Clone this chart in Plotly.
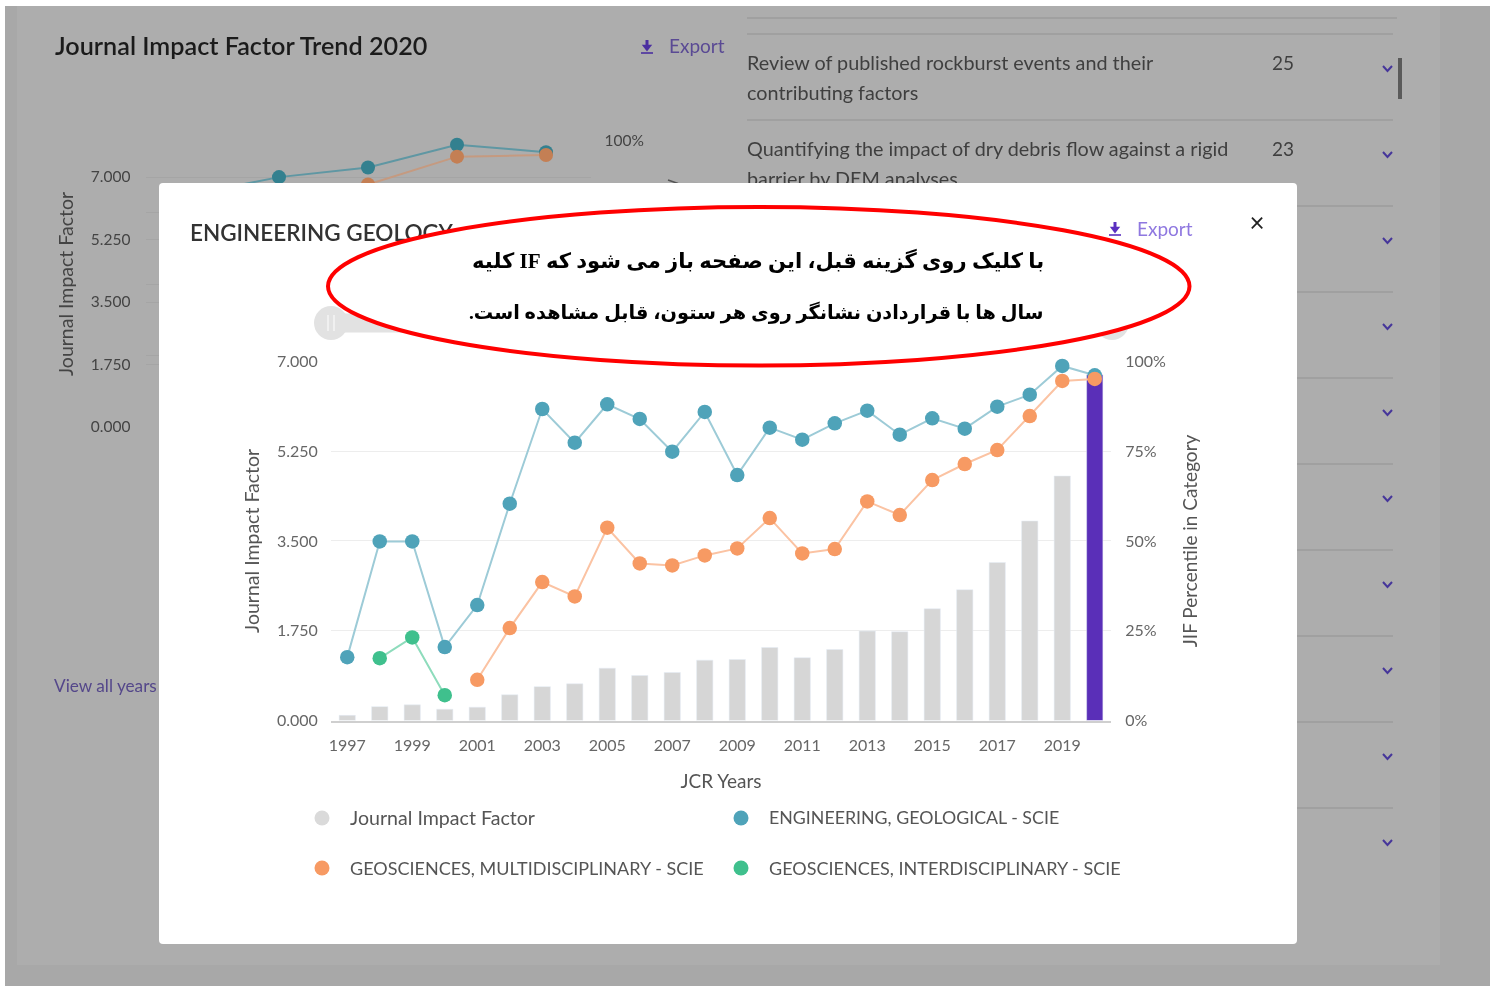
import plotly.graph_objects as go

W, H = 1498, 986

# ---------- chart data ----------
years = list(range(1997, 2021))
jif = [0.10, 0.27, 0.305, 0.22, 0.26, 0.50, 0.66, 0.715, 1.02, 0.877, 0.936, 1.176,
       1.19, 1.423, 1.222, 1.384, 1.742, 1.729, 2.177, 2.548, 3.08, 3.887, 4.764, 6.74]
eng_geo = [17.64, 49.86, 49.86, 20.43, 32.13, 60.35, 86.72, 77.34, 88.02, 83.94, 74.84, 85.89,
           68.34, 81.52, 78.18, 82.73, 86.26, 79.57, 84.12, 81.24, 87.37, 90.71, 98.70, 96.10]
geo_multi = [None, None, None, None, 11.33, 25.72, 38.53, 34.54, 53.67, 43.73, 43.18, 45.96,
             47.91, 56.36, 46.52, 47.73, 61.0, 57.2, 66.94, 71.4, 75.3, 84.77, 94.52, 95.08]
geo_inter = [None, 17.36, 23.12, 7.06] + [None] * 20
series_names = ["Journal Impact Factor", "ENGINEERING, GEOLOGICAL - SCIE",
                "GEOSCIENCES, MULTIDISCIPLINARY - SCIE", "GEOSCIENCES, INTERDISCIPLINARY - SCIE"]
jif_ticks = [0, 1.75, 3.5, 5.25, 7]
pct_ticks = [0, 25, 50, 75, 100]
pct_labels = ["0%", "25%", "50%", "75%", "100%"]
year_ticks = list(range(1997, 2020, 2))
list_rows = [("Review of published rockburst events and their", "contributing factors", "25"),
             ("Quantifying the impact of dry debris flow against a rigid", "barrier by DEM analyses", "23")]
note_lines = ["با کلیک روی گزینه قبل، این صفحه باز می شود که IF کلیه",
              "سال ها با قراردادن نشانگر روی هر ستون، قابل مشاهده است."]

FONT = "Lato"
C_BAR, C_NOW = "#d6d6d6", "#5a2fb8"
C_TEAL, C_ORANGE, C_GREEN = "#4fa3b9", "#f79a63", "#3fc08d"
L_TEAL, L_ORANGE, L_GREEN = "#9dcbd7", "#fbc3a3", "#8edcbc"
PANEL, OUTER, GRID_DIM = "#adadad", "#a8a8a8", "#a5a5a5"


def dom_x(a, b):
    return [a / W, b / W]


def dom_y(top, bottom):
    return [(H - bottom) / H, (H - top) / H]


fig = go.Figure()
PAGE = dict(xaxis="x", yaxis="y")
MODAL = dict(xaxis="x3", yaxis="y4")


def label(text, x, y, size, color, axes, pos="middle right", weight=None):
    fig.add_trace(go.Scatter(x=[x], y=[y + 2], mode="text", text=[text], textposition=pos,
                             textfont=dict(family=FONT, size=size, color=color,
                                           **({"weight": weight} if weight else {})),
                             cliponaxis=False, hoverinfo="skip", showlegend=False, **axes))


def polyline(xs, ys, color, width, axes):
    fig.add_trace(go.Scatter(x=xs, y=ys, mode="lines", line=dict(color=color, width=width),
                             hoverinfo="skip", showlegend=False, connectgaps=False,
                             cliponaxis=False, **axes))


def export_icon(x, y, color, axes):
    polyline([x, x], [y - 6, y], color, 3, axes)
    polyline([x - 6, x + 6], [y + 7, y + 7], color, 1.6, axes)
    fig.add_trace(go.Scatter(x=[x], y=[y + 1], mode="markers", hoverinfo="skip", showlegend=False,
                             marker=dict(symbol="triangle-down", size=9, color=color), **axes))


# ---------- page behind the dialog ----------
for yy in [18, 34, 120, 206, 292, 378, 464, 550, 636, 722, 808]:
    polyline([747, 1397 if yy == 18 else 1393], [yy, yy], "#9c9c9c", 1.4, PAGE)
label("Journal Impact Factor Trend 2020", 55, 47, 25.2, "#1b1b1b", PAGE, weight=600)
export_icon(647, 46, "#4b2fa0", PAGE)
label("Export", 669, 46, 19, "#5a4a94", PAGE)
label("View all years", 54, 685.5, 17.2, "#54478a", PAGE)
for i, (first, second, cites) in enumerate(list_rows):
    label(first, 747, 63 + 86 * i, 19.8, "#3f3f3f", PAGE)
    label(second, 747, 93 + 86 * i, 19.8, "#3f3f3f", PAGE)
    label(cites, 1272, 63 + 86 * i, 19, "#3f3f3f", PAGE)
for yy in [68 + 86 * i for i in range(10)]:
    polyline([1383, 1387.5, 1392], [yy - 2, yy + 3, yy - 2], "#46369a", 2, PAGE)
polyline([1400, 1400], [58, 99], "#5a5a5a", 4, PAGE)
polyline([668, 678, 671], [180, 183.5, 187], "#555555", 1.5, PAGE)

# background copy of the chart: last five JCR years
fig.add_trace(go.Bar(x=years[-5:], y=jif[-5:], marker_color=["#8f8f8f"] * 4 + ["#3e2380"], width=0.5,
                     hoverinfo="skip", showlegend=False, xaxis="x2", yaxis="y2"))
for vals, c_line, c_mark in [(eng_geo, "#5f97a3", "#33808f"), (geo_multi, "#c59a80", "#c47f54")]:
    fig.add_trace(go.Scatter(x=years[-5:], y=vals[-5:], mode="lines+markers",
                             line=dict(color=c_line, width=2), marker=dict(size=14, color=c_mark),
                             cliponaxis=False, hoverinfo="skip", showlegend=False, xaxis="x2", yaxis="y3"))

# ---------- dialog level ----------
label("ENGINEERING GEOLOGY", 190, 233, 22.5, "#333333", MODAL, weight=600)
export_icon(1115, 228, "#5a2fc0", MODAL)
label("Export", 1137, 229, 19, "#8f78e0", MODAL)
label("×", 1257, 223, 26, "#222222", MODAL, pos="middle center")
polyline([331, 1112], [323, 323], "#e2e2e2", 19, MODAL)
fig.add_trace(go.Scatter(x=[331, 1112], y=[323, 323], mode="markers", hoverinfo="skip", showlegend=False,
                         marker=dict(size=34, color="#e2e2e2"), **MODAL))
polyline([328, 328, None, 334, 334], [315, 331, None, 315, 331], "#f4f4f4", 1.5, MODAL)
legend_pos = [(322, 818), (741, 818), (322, 868), (741, 868)]
legend_col = ["#dadada", C_TEAL, C_ORANGE, C_GREEN]
legend_size = [19.6, 17.8, 18, 18]
for name, (lx, ly), col, sz in zip(series_names, legend_pos, legend_col, legend_size):
    fig.add_trace(go.Scatter(x=[lx], y=[ly], mode="markers", marker=dict(size=15, color=col),
                             hoverinfo="skip", showlegend=False, **MODAL))
    label(name, lx + 28, ly, sz, "#555555", MODAL)

# ---------- main chart ----------
fig.add_trace(go.Bar(x=years, y=jif, name=series_names[0], width=0.5,
                     marker_color=[C_BAR] * 23 + [C_NOW], showlegend=False, xaxis="x4", yaxis="y5"))
for vals, c_line, c_mark, nm in [(eng_geo, L_TEAL, C_TEAL, series_names[1]),
                                 (geo_inter, L_GREEN, C_GREEN, series_names[3]),
                                 (geo_multi, L_ORANGE, C_ORANGE, series_names[2])]:
    fig.add_trace(go.Scatter(x=years, y=vals, name=nm, mode="lines+markers", connectgaps=False,
                             line=dict(color=c_line, width=2), marker=dict(size=14.5, color=c_mark),
                             cliponaxis=False, showlegend=False, xaxis="x4", yaxis="y6"))

hidden = dict(visible=False, fixedrange=True, showgrid=False, zeroline=False)
tickf = dict(family=FONT, size=16, color="#666666")
tickb = dict(family=FONT, size=15.5, color="#444444")
layout_axes = dict(
    xaxis=dict(domain=[0, 1], range=[0, W], **hidden),
    yaxis=dict(domain=[0, 1], range=[H, 0], **hidden),
    # background chart
    xaxis2=dict(domain=dom_x(145.5, 590.5), range=[2015.5, 2020.5], anchor="y2", fixedrange=True,
                showgrid=False, zeroline=False, showline=False, showticklabels=False, ticks=""),
    yaxis2=dict(domain=dom_y(141, 427), anchor="x2", range=[0, 8.008], tickvals=jif_ticks,
                tickformat=".3f", gridcolor=GRID_DIM, gridwidth=1.2, zeroline=False, showline=False,
                ticks="outside", ticklen=11, tickcolor="rgba(0,0,0,0)", tickfont=tickb, fixedrange=True,
                title=dict(text=series_names[0], font=dict(family=FONT, size=19.5, color="#444444"),
                           standoff=11)),
    yaxis3=dict(overlaying="y2", anchor="x2", side="right", range=[0, 100],
                tickvals=pct_ticks[-1:], ticktext=pct_labels[-1:],
                minor=dict(tickvals=pct_ticks[:-1], showgrid=True, gridcolor=GRID_DIM, gridwidth=1.2),
                gridcolor=GRID_DIM, gridwidth=1.2, zeroline=False, showline=False,
                ticks="outside", ticklen=10, tickcolor="rgba(0,0,0,0)", tickfont=tickb, fixedrange=True),
    # dialog coordinates
    xaxis3=dict(domain=[0, 1], range=[0, W], anchor="y4", **hidden),
    yaxis4=dict(domain=[0, 1], range=[H, 0], anchor="x3", **hidden),
    # main chart
    xaxis4=dict(domain=dom_x(331, 1111), range=[1996.5, 2020.5], anchor="y5", tickvals=year_ticks,
                showgrid=False, zeroline=False, showline=True, linecolor="#cfcfcf", linewidth=1.5,
                ticks="outside", ticklen=10, tickcolor="rgba(0,0,0,0)", tickfont=tickf, fixedrange=True,
                title=dict(text="JCR Years", font=dict(family=FONT, size=19, color="#555555"), standoff=21)),
    yaxis5=dict(domain=dom_y(361.3, 720.5), anchor="x4", range=[0, 7], tickvals=jif_ticks,
                tickformat=".3f", gridcolor="#ededed", gridwidth=1.3, zeroline=False, showline=False,
                ticks="outside", ticklen=9, tickcolor="rgba(0,0,0,0)", tickfont=tickf, fixedrange=True,
                title=dict(text=series_names[0], font=dict(family=FONT, size=19.5, color="#555555"),
                           standoff=12)),
    yaxis6=dict(overlaying="y5", anchor="x4", side="right", range=[0, 100], tickvals=pct_ticks,
                ticktext=pct_labels, showgrid=False, zeroline=False, showline=False,
                ticks="outside", ticklen=10, tickcolor="rgba(0,0,0,0)", tickfont=tickf, fixedrange=True,
                title=dict(text="JIF Percentile in Category", font=dict(family=FONT, size=19, color="#555555"),
                           standoff=18)),
)

shapes = [
    dict(type="rect", xref="paper", yref="paper", x0=5 / W, x1=1490 / W, y0=0, y1=(H - 6) / H,
         fillcolor=OUTER, line_width=0, layer="below"),
    dict(type="rect", xref="paper", yref="paper", x0=17 / W, x1=1440 / W, y0=(H - 965) / H, y1=(H - 6) / H,
         fillcolor=PANEL, line_width=0, layer="below"),
    # dialog sheet, in the dialog subplot's own layer: above the background chart
    dict(type="path", xref="x3", yref="y4", layer="below", fillcolor="#ffffff", line_width=0,
         path="M163,183 L1293,183 Q1297,183 1297,187 L1297,940 Q1297,944 1293,944 L163,944 "
              "Q159,944 159,940 L159,187 Q159,183 163,183 Z"),
    # red callout
    dict(type="circle", xref="paper", yref="paper", layer="above",
         x0=328 / W, x1=1189.5 / W, y0=(H - 365.5) / H, y1=(H - 207) / H,
         fillcolor="#ffffff", line=dict(color="#ff0000", width=4)),
]

note_sizes = [21.1, 19.3]
annotations = [
    dict(text="\u202b<b>" + line + "</b>\u202c", xref="paper", yref="paper", x=1046 / W, y=(H - yy) / H,
         xanchor="right", yanchor="middle", showarrow=False, align="right",
         font=dict(family="Liberation Serif, DejaVu Sans", size=sz, color="#000000"))
    for line, yy, sz in zip(note_lines, [260, 312], note_sizes)
]

fig.update_layout(
    width=W, height=H, margin=dict(l=0, r=0, t=0, b=0, pad=0, autoexpand=False),
    paper_bgcolor="#ffffff", plot_bgcolor="rgba(0,0,0,0)", barmode="overlay",
    showlegend=False, shapes=shapes, annotations=annotations, font=dict(family=FONT),
    **layout_axes,
)

fig.write_html(
    "out.html",
    config=dict(displayModeBar=False, responsive=False),
    post_script="document.body.style.margin='0';document.documentElement.style.overflow='hidden';"
                "document.querySelector('.plotly-graph-div').style.filter='blur(0.4px)';",
)
